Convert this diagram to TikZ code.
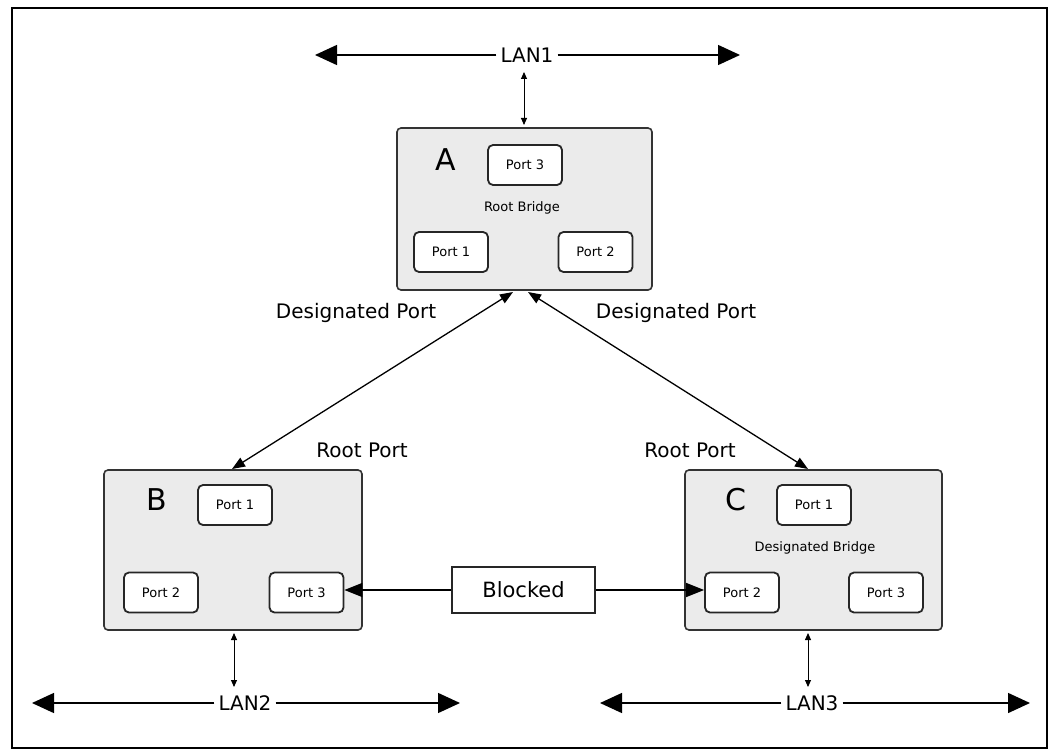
\documentclass[tikz,border=0pt]{standalone}
\usepackage{fontspec}
\setmainfont{DejaVu Sans}
\usetikzlibrary{arrows.meta}
\newcommand{\fs}[1]{\fontsize{#1}{#1}\selectfont}
\begin{document}
\begin{tikzpicture}[x=1pt,y=-1pt,
  bridge/.style={draw=black!80,line width=1.6pt,rounded corners=4pt,fill=black!8,inner sep=0pt},
  portbox/.style={draw=black!85,line width=1.8pt,rounded corners=5pt,fill=white,minimum width=74pt,minimum height=40pt,inner sep=0pt,font=\fs{13}},
  lan/.style={line width=1.4pt,-{Triangle[length=22pt,width=20pt]}},
  drop/.style={line width=0.9pt,{Triangle[length=7pt,width=6pt]}-{Triangle[length=7pt,width=6pt]}},
  link/.style={line width=1.3pt,{Triangle[length=13pt,width=10pt]}-{Triangle[length=13pt,width=10pt]}},
  blk/.style={line width=1.3pt,-{Triangle[length=18pt,width=14pt]}},
  lbl/.style={font=\fs{20}},
  big/.style={font=\fs{30}},
  lantxt/.style={font=\fs{20},fill=white,inner sep=4pt}]
\useasboundingbox (0,0) rectangle (1059,754);
\draw[line width=1.8pt] (12,8) rectangle (1047,748);
% bridges
\node[bridge,minimum width=255pt,minimum height=162pt] (A) at (524.5,209) {};
\node[bridge,minimum width=258pt,minimum height=160pt] (B) at (233,550) {};
\node[bridge,minimum width=257pt,minimum height=160pt] (C) at (813.5,550) {};
% A
\node[big] (Alab) at (446,160) {A};
\node[portbox] (A3) at (525,165) {Port 3};
\node[font=\fs{13}] (Arb) at (522,208) {Root Bridge};
\node[portbox] (A1) at (451,252) {Port 1};
\node[portbox] (A2) at (595.5,252) {Port 2};
% B
\node[big] (Blab) at (157,500) {B};
\node[portbox] (B1) at (235,505) {Port 1};
\node[portbox] (B2) at (161,592.5) {Port 2};
\node[portbox] (B3) at (306.5,592.5) {Port 3};
% C
\node[big] (Clab) at (736,500) {C};
\node[portbox] (C1) at (814,505) {Port 1};
\node[font=\fs{13}] (Cdb) at (815,548) {Designated Bridge};
\node[portbox] (C2) at (742,592.5) {Port 2};
\node[portbox] (C3) at (886,592.5) {Port 3};
% LANs
\node[lantxt] (L1) at (527,55) {LAN1};
\coordinate (L1l) at (315,55);
\coordinate (L1r) at (740,55);
\draw[lan] (L1) -- (L1l);
\draw[lan] (L1) -- (L1r);
\coordinate (L1d) at (524,72);
\coordinate (Atop) at (524,125);
\draw[drop] (L1d) -- (Atop);

\node[lantxt] (L2) at (245,703) {LAN2};
\coordinate (L2l) at (32,703);
\coordinate (L2r) at (460,703);
\draw[lan] (L2) -- (L2l);
\draw[lan] (L2) -- (L2r);
\coordinate (L2u) at (234,687);
\coordinate (Bbot) at (234,633);
\draw[drop] (Bbot) -- (L2u);

\node[lantxt] (L3) at (812,703) {LAN3};
\coordinate (L3l) at (600,703);
\coordinate (L3r) at (1030,703);
\draw[lan] (L3) -- (L3l);
\draw[lan] (L3) -- (L3r);
\coordinate (L3u) at (808,687);
\coordinate (Cbot) at (808,633);
\draw[drop] (Cbot) -- (L3u);
% links
\coordinate (Abl) at (513,292);
\coordinate (Abr) at (528,292);
\coordinate (Btop) at (232,469);
\coordinate (Ctop) at (808,469);
\draw[link] (Abl) -- (Btop);
\draw[link] (Abr) -- (Ctop);
\node[lbl] (dpl) at (356,313) {Designated Port};
\node[lbl] (dpr) at (676,313) {Designated Port};
\node[lbl] (rpl) at (362,450) {Root Port};
\node[lbl] (rpr) at (690,450) {Root Port};
% blocked
\node[draw=black!85,line width=1.3pt,minimum width=143pt,minimum height=46pt,inner sep=0pt,fill=white,font=\fs{21}] (blk) at (523.5,590) {Blocked};
\draw[blk] (blk.west) -- (B3.east |- blk.west);
\draw[blk] (blk.east) -- (C2.west |- blk.east);
\end{tikzpicture}
\end{document}
